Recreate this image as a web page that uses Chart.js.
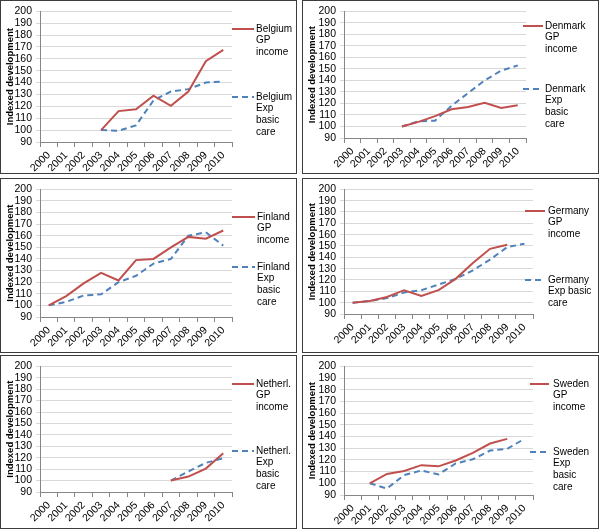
<!DOCTYPE html>
<html>
<head>
<meta charset="utf-8">
<script src="https://cdn.jsdelivr.net/npm/chart.js@4.4.1/dist/chart.umd.min.js"></script>
<style>
  body { margin: 0; background: #fff; }
  .panel { position: absolute; border: 1px solid #3c3c3c; background: #fff; }
  .panel canvas { display: block; }
</style>
</head>
<body>
<script>
// categories
const years = ['2000', '2001', '2002', '2003', '2004', '2005', '2006', '2007', '2008', '2009', '2010'];
const yTicks = { min: 90, max: 200, step: 10 };

// series values
const belgiumGP  = [null, null, null, 100, 116, 117.5, 129, 120.5, 132.5, 158, 167.5];
const belgiumExp = [null, null, null, 100, 99.5, 104, 125, 132.5, 134.5, 140, 141];
const denmarkGP  = [null, null, null, 100, 104, 109, 115, 117, 120.5, 116, 118.5];
const denmarkExp = [null, null, null, 100, 104.5, 105, 118, 129, 140, 148.5, 153];
const finlandGP  = [100, 108, 119, 128, 121.5, 139, 140, 150, 159, 157.5, 164.5];
const finlandExp = [100, 103, 108.5, 109.5, 120, 125.5, 136, 140, 160, 163, 151.5];
const germanyGP  = [100, 101.5, 105, 111, 106, 111, 121, 135, 147.5, 151, null];
const germanyExp = [100, 101.5, 104, 109, 111, 116, 121, 128.5, 138, 149, 152];
const netherlGP  = [null, null, null, null, null, null, null, 100, 103.5, 110.5, 124];
const netherlExp = [null, null, null, null, null, null, null, 100, 108, 115.5, 119.5];
const swedenGP   = [null, 100, 108, 110.5, 115.5, 114.5, 119.5, 126, 134, 138, null];
const swedenExp  = [null, 100, 95.5, 107, 111, 107.5, 117, 120.5, 128, 129.5, 138];

// legend texts (one entry per line of text)
const belgiumLabels = [['Belgium', 'GP', 'income'], ['Belgium', 'Exp', 'basic', 'care']];
const denmarkLabels = [['Denmark', 'GP', 'income'], ['Denmark', 'Exp', 'basic', 'care']];
const finlandLabels = [['Finland', 'GP', 'income'], ['Finland', 'Exp', 'basic', 'care']];
const germanyLabels = [['Germany', 'GP', 'income'], ['Germany', 'Exp basic', 'care']];
const netherlLabels = [['Netherl.', 'GP', 'income'], ['Netherl.', 'Exp', 'basic', 'care']];
const swedenLabels  = [['Sweden', 'GP', 'income'], ['Sweden', 'Exp', 'basic', 'care']];

const RED = '#C0504D';
const BLUE = '#4F81BD';
const DASH = [6, 4];
const FONT = '"Liberation Sans", Arial, sans-serif';

// page layout of the six panels (box = outer border, plot = chart area, legend = key)
const panels = [
  { gp: belgiumGP, exp: belgiumExp, labels: belgiumLabels,
    box: { x: 0, y: 0, w: 297, h: 174 }, plot: { l: 40, r: 232, t: 10, b: 142 },
    legend: { x0: 232, x1: 254, tx: 256, y1: 29, y2: 97 } },
  { gp: denmarkGP, exp: denmarkExp, labels: denmarkLabels,
    box: { x: 302, y: 0, w: 297, h: 174 }, plot: { l: 344, r: 526, t: 10, b: 138 },
    legend: { x0: 523, x1: 543, tx: 545, y1: 26, y2: 89 } },
  { gp: finlandGP, exp: finlandExp, labels: finlandLabels,
    box: { x: 0, y: 178, w: 297, h: 175 }, plot: { l: 40, r: 232, t: 185, b: 317 },
    legend: { x0: 232, x1: 255, tx: 257, y1: 217, y2: 267 } },
  { gp: germanyGP, exp: germanyExp, labels: germanyLabels,
    box: { x: 302, y: 178, w: 297, h: 175 }, plot: { l: 344, r: 533, t: 185, b: 314 },
    legend: { x0: 525, x1: 545, tx: 548, y1: 211, y2: 280 } },
  { gp: netherlGP, exp: netherlExp, labels: netherlLabels,
    box: { x: 0, y: 355, w: 297, h: 174 }, plot: { l: 40, r: 232, t: 361, b: 492 },
    legend: { x0: 232, x1: 254, tx: 256, y1: 384, y2: 451 } },
  { gp: swedenGP, exp: swedenExp, labels: swedenLabels,
    box: { x: 302, y: 355, w: 297, h: 174 }, plot: { l: 344, r: 533, t: 361, b: 495 },
    legend: { x0: 530, x1: 549, tx: 553, y1: 384, y2: 452 } }
];

// draws the key on the right side, text wrapped over several lines like Excel does
const sideLegend = {
  id: 'sideLegend',
  afterDraw(chart, args, opts) {
    const ctx = chart.ctx;
    chart.data.datasets.forEach((ds, i) => {
      const y = i === 0 ? opts.y1 : opts.y2;
      ctx.save();
      ctx.strokeStyle = ds.borderColor;
      ctx.lineWidth = 2;
      ctx.setLineDash(ds.borderDash || []);
      ctx.beginPath();
      ctx.moveTo(opts.x0, y);
      ctx.lineTo(opts.x1, y);
      ctx.stroke();
      ctx.setLineDash([]);
      ctx.fillStyle = '#000';
      ctx.font = '10px ' + FONT;
      ctx.textBaseline = 'middle';
      ctx.textAlign = 'left';
      ds.label.forEach((line, k) => ctx.fillText(line, opts.tx, y + k * 11.7));
      ctx.restore();
    });
  }
};

panels.forEach(p => {
  const div = document.createElement('div');
  div.className = 'panel';
  div.style.left = p.box.x + 'px';
  div.style.top = p.box.y + 'px';
  const cw = p.box.w - 2, ch = p.box.h - 2;
  div.style.width = cw + 'px';
  div.style.height = ch + 'px';
  const canvas = document.createElement('canvas');
  canvas.width = cw;
  canvas.height = ch;
  canvas.style.width = cw + 'px';
  canvas.style.height = ch + 'px';
  div.appendChild(canvas);
  document.body.appendChild(div);

  // plot edges in canvas coordinates
  const ox = p.box.x + 1, oy = p.box.y + 1;
  const left = p.plot.l - ox, right = p.plot.r - ox, top = p.plot.t - oy, bottom = p.plot.b - oy;
  const lg = p.legend;

  new Chart(canvas.getContext('2d'), {
    type: 'line',
    data: {
      labels: years,
      datasets: [
        { label: p.labels[0], data: p.gp, borderColor: RED, borderWidth: 2, spanGaps: false },
        { label: p.labels[1], data: p.exp, borderColor: BLUE, borderWidth: 2, borderDash: DASH, spanGaps: false }
      ]
    },
    options: {
      responsive: false,
      animation: false,
      layout: { padding: { top: top, right: cw - right, left: 0, bottom: 0 } },
      elements: { point: { radius: 0 }, line: { tension: 0, fill: false } },
      plugins: {
        legend: { display: false },
        tooltip: { enabled: false },
        sideLegend: { x0: lg.x0 - ox, x1: lg.x1 - ox, tx: lg.tx - ox, y1: lg.y1 - oy, y2: lg.y2 - oy }
      },
      scales: {
        x: {
          offset: true,
          grid: { offset: true, drawOnChartArea: false, tickLength: 5, color: '#868686' },
          border: { color: '#868686' },
          ticks: { minRotation: 45, maxRotation: 45, autoSkip: false, padding: 2, color: '#000', font: { family: FONT, size: 10.5 } },
          afterFit: s => { s.height = ch - bottom; }
        },
        y: {
          min: yTicks.min,
          max: yTicks.max,
          ticks: { stepSize: yTicks.step, autoSkip: false, padding: 4, color: '#000', font: { family: FONT, size: 10.5 } },
          grid: { color: '#d9d9d9', tickLength: 4 },
          border: { color: '#868686' },
          title: { display: true, text: 'Indexed development', color: '#000', font: { family: FONT, size: 9.5, weight: 'bold' } },
          afterFit: s => { s.width = left; }
        }
      }
    },
    plugins: [sideLegend]
  });
});
</script>
</body>
</html>
